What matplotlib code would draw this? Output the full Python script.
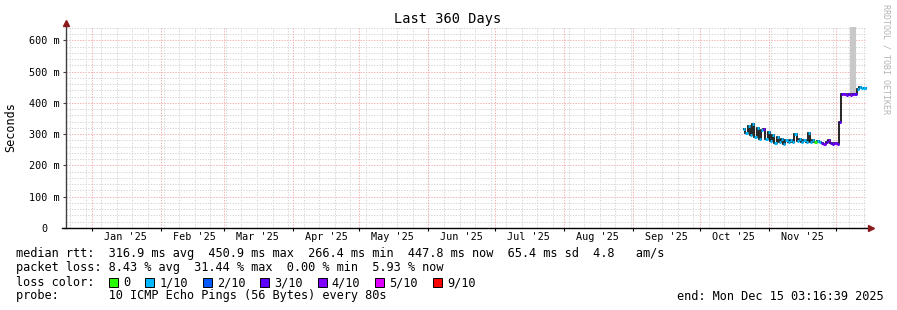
import matplotlib
matplotlib.use("Agg")
import matplotlib.pyplot as plt
from matplotlib.patches import Rectangle
import numpy as np
from datetime import datetime, timedelta

# ------------- data
graph_start = datetime(2024, 12, 20, 3, 16, 39)
graph_days = 360
data_start = datetime(2025, 10, 20, 12, 0)

# daily median rtt in ms
rtt = [318, 304, 326, 296, 332, 292, 320, 286, 314, 318,
       284, 306, 278, 298, 272, 292, 276, 286, 270, 281,
       275, 283, 274, 300, 277, 286, 276, 281, 275, 303,
       276, 280, 275, 278, 276, 271, 270, 274, 280, 272,
       270, 271, 268, 338, 428, 430, 426, 429, 427, 428,
       428, 446, 450, 447, 449, 448]
# lost pings out of 10 per day
loss = [1, 1, 1, 1, 1, 1, 1, 1, 1, 4,
        1, 1, 1, 1, 1, 1, 1, 1, 1, 1,
        1, 1, 1, 1, 1, 1, 1, 1, 1, 1,
        1, 1, 0, 1, 1, 3, 4, 3, 4, 3,
        3, 4, 3, 3, 3, 4, 3, 3, 4, 3,
        3, 1, 1, 1, 1, 1]
# big smoke (ping spread) around the change
smoke_idx = [47.8, 48.8, 49.8]
smoke_lo = [432, 432, 432]
smoke_hi = [660, 660, 660]

loss_labels = ["0", "1/10", "2/10", "3/10", "4/10", "5/10", "9/10"]
loss_counts = [0, 1, 2, 3, 4, 5, 9]
loss_colors = ["#26ff00", "#00b8ff", "#0059ff", "#5e00ff", "#7e00ff", "#dd00ff", "#ff0000"]

stats_rtt = "median rtt:  316.9 ms avg  450.9 ms max  266.4 ms min  447.8 ms now  65.4 ms sd  4.8   am/s"
stats_loss = "packet loss: 8.43 % avg  31.44 % max  0.00 % min  5.93 % now"
probe_text = "probe:       10 ICMP Echo Pings (56 Bytes) every 80s"
end_text = "end: Mon Dec 15 03:16:39 2025"

MONO = "DejaVu Sans Mono"
W, H = 897, 310


def dx(d):
    return (d - graph_start).total_seconds() / 86400.0


# ------------- figure
fig = plt.figure(figsize=(W / 100, H / 100), dpi=100, facecolor="white")
ax = fig.add_axes([66 / W, 1 - 228 / H, 801 / W, 201 / H], facecolor="white")
ax.set_xlim(0, graph_days)
ax.set_ylim(0, 643)
for s in ax.spines.values():
    s.set_visible(False)

# grid
minor_c, major_c = "#d6d6d6", "#f4b0b0"
dash = (0, (1.4, 1.4))
for v in range(20, 643, 20):
    ax.axhline(v, color=major_c if v % 100 == 0 else minor_c, lw=0.7, ls=dash, zorder=0.5)

sunday = datetime(2024, 12, 22)
while dx(sunday) < graph_days:
    ax.axvline(dx(sunday), color=minor_c, lw=0.7, ls=dash, zorder=0.5)
    sunday += timedelta(days=7)

month_starts = [datetime(2025, m, 1) for m in range(1, 13)]
for d in month_starts:
    ax.axvline(dx(d), color=major_c, lw=0.7, ls=dash, zorder=0.6)

# smoke
edges = dx(data_start) + np.arange(len(rtt) + 1)
ax.bar(dx(data_start) + np.array(smoke_idx), np.array(smoke_hi) - np.array(smoke_lo), width=1.0,
       bottom=smoke_lo, align="edge", color="#c8c8c8", zorder=1)

# median line: black steps, coloured by loss
ax.stairs(rtt, edges, baseline=None, color="black", lw=1.2, zorder=2)
cmap = dict(zip(loss_counts, loss_colors))
ax.hlines(rtt, edges[:-1], edges[1:], colors=[cmap[l] for l in loss], lw=2.2, zorder=3)

# axes lines + arrows
ax.plot([0, 0], [0, 1 + 4 / 201], transform=ax.transAxes, color="#404040", lw=1, clip_on=False, zorder=4)
ax.plot([-4 / 801, 1 + 3 / 801], [0, 0], transform=ax.transAxes, color="black", lw=1, clip_on=False, zorder=4)
ax.plot([0], [1 + 4 / 201], marker="^", ms=4.5, color="#8b1a1a", transform=ax.transAxes, clip_on=False, zorder=5)
ax.plot([1 + 4 / 801], [0], marker=">", ms=4.5, color="#8b1a1a", transform=ax.transAxes, clip_on=False, zorder=5)

# ticks
yt = list(range(0, 700, 100))
ax.set_yticks(yt)
ax.set_yticklabels(["0  "] + ["%d m" % v for v in yt[1:]], family=MONO, fontsize=7.3)
ax.tick_params(axis="y", length=2.2, width=0.8, color="#404040", pad=2.1)

mid_months = [datetime(2025, m, 16) for m in range(1, 12)]
ax.set_xticks([dx(d) for d in mid_months])
ax.set_xticklabels([d.strftime("%b '%y") for d in mid_months], family=MONO, fontsize=7.3)
ax.set_xticks([dx(d) for d in month_starts if dx(d) < graph_days], minor=True)
ax.tick_params(axis="x", which="major", length=0, pad=3.2)
ax.tick_params(axis="x", which="minor", length=2, width=0.8, color="black")

# titles
fig.text(448 / W, 1 - 19 / H, "Last 360 Days", family=MONO, fontsize=9.8, ha="center", va="center")
fig.text(11 / W, 1 - 127 / H, "Seconds", family=MONO, fontsize=8.5, rotation=90, ha="center", va="center")
fig.text(886 / W, 1 - 4 / H, "RRDTOOL / TOBI OETIKER", family=MONO, fontsize=6, color="#b4b4b4",
         rotation=270, ha="center", va="top")

# legend / stats block
tx = 15.5 / W
fig.text(tx, 1 - 254 / H, stats_rtt, family=MONO, fontsize=8.55, va="center")
fig.text(tx, 1 - 268 / H, stats_loss, family=MONO, fontsize=8.55, va="center")
fig.text(tx, 1 - 282.5 / H, "loss color:", family=MONO, fontsize=8.55, va="center")
fig.text(tx, 1 - 296 / H, probe_text, family=MONO, fontsize=8.55, va="center")
fig.text(884 / W, 1 - 296 / H, end_text, family=MONO, fontsize=8.55, va="center", ha="right")

x = 109.0
for lab, col in zip(loss_labels, loss_colors):
    fig.patches.append(Rectangle((x / W, 1 - 287 / H), 9 / W, 9 / H, transform=fig.transFigure,
                                 facecolor=col, edgecolor="black", lw=0.7))
    fig.text((x + 14) / W, 1 - 282.5 / H, lab, family=MONO, fontsize=8.55, va="center")
    x += 14 + 7.14 * len(lab) + 15

fig.savefig("out.png", dpi=100, facecolor="white")
